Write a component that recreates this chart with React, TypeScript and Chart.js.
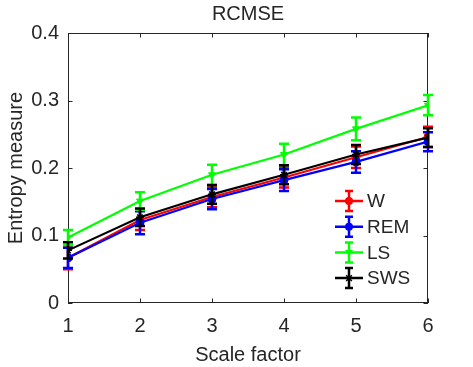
import React, { useEffect, useRef } from 'react';
import { Chart, registerables } from 'chart.js';

Chart.register(...registerables);

const scaleFactors = [1, 2, 3, 4, 5, 6];
const yTickValues = [0, 0.1, 0.2, 0.3, 0.4];
const seriesNames = ['W', 'REM', 'LS', 'SWS'];
const seriesColors = ['#ff0000', '#0000ff', '#00ff00', '#000000'];
const seriesMarkers = ['circle', 'circle', 'triangle', 'star'];

const wValues = [0.067, 0.123, 0.157, 0.186, 0.216, 0.246];
const wErrors = [0.017, 0.015, 0.015, 0.015, 0.016, 0.015];
const remValues = [0.067, 0.119, 0.154, 0.182, 0.209, 0.239];
const remErrors = [0.015, 0.017, 0.015, 0.016, 0.016, 0.014];
const lsValues = [0.097, 0.151, 0.19, 0.22, 0.258, 0.293];
const lsErrors = [0.011, 0.013, 0.015, 0.016, 0.017, 0.015];
const swsValues = [0.078, 0.127, 0.161, 0.19, 0.22, 0.245];
const swsErrors = [0.012, 0.013, 0.014, 0.014, 0.014, 0.014];

const allValues = [wValues, remValues, lsValues, swsValues];
const allErrors = [wErrors, remErrors, lsErrors, swsErrors];

const FONT = '"Liberation Sans", Arial, Helvetica, sans-serif';
const TEXT = '#262626';

function drawMarker(ctx: CanvasRenderingContext2D, style: string, x: number, y: number, r: number, color: string) {
  ctx.save();
  ctx.fillStyle = color;
  ctx.strokeStyle = color;
  ctx.lineWidth = 1.5;
  ctx.beginPath();
  if (style === 'circle') {
    ctx.arc(x, y, r, 0, Math.PI * 2);
    ctx.fill();
  } else if (style === 'triangle') {
    ctx.moveTo(x - r, y - r * 0.6);
    ctx.lineTo(x + r, y - r * 0.6);
    ctx.lineTo(x, y + r);
    ctx.closePath();
    ctx.fill();
  } else {
    for (let k = 0; k < 4; k++) {
      const a = (k * Math.PI) / 4;
      ctx.moveTo(x - Math.cos(a) * r, y - Math.sin(a) * r);
      ctx.lineTo(x + Math.cos(a) * r, y + Math.sin(a) * r);
    }
    ctx.stroke();
  }
  ctx.restore();
}

const errorBarPlugin = {
  id: 'errorBars',
  afterDatasetDraw(chart: any, args: any) {
    const ds = chart.data.datasets[args.index];
    const errs: number[] = ds.errorValues;
    if (!errs) return;
    const ctx = chart.ctx;
    const ys = chart.scales.y;
    const xs = chart.scales.x;
    ctx.save();
    ctx.strokeStyle = ds.borderColor;
    ctx.lineWidth = 2.5;
    ds.data.forEach((p: any, i: number) => {
      const x = xs.getPixelForValue(p.x);
      const yTop = ys.getPixelForValue(p.y + errs[i]);
      const yBot = ys.getPixelForValue(p.y - errs[i]);
      ctx.beginPath();
      ctx.moveTo(x, yTop);
      ctx.lineTo(x, yBot);
      ctx.moveTo(x - 5, yTop);
      ctx.lineTo(x + 5, yTop);
      ctx.moveTo(x - 5, yBot);
      ctx.lineTo(x + 5, yBot);
      ctx.stroke();
    });
    ctx.restore();
  },
};

const boxPlugin = {
  id: 'boxAxes',
  beforeDatasetsDraw(chart: any) {
    const { ctx, chartArea } = chart;
    const { left, right, top, bottom } = chartArea;
    ctx.save();
    ctx.strokeStyle = TEXT;
    ctx.lineWidth = 1;
    ctx.strokeRect(left + 0.5, top + 0.5, right - left - 1, bottom - top - 1);
    const tl = 4.5;
    ctx.beginPath();
    chart.scales.x.ticks.forEach((t: any) => {
      const x = Math.round(chart.scales.x.getPixelForValue(t.value)) + 0.5;
      ctx.moveTo(x, bottom);
      ctx.lineTo(x, bottom - tl);
      ctx.moveTo(x, top);
      ctx.lineTo(x, top + tl);
    });
    chart.scales.y.ticks.forEach((t: any) => {
      const y = Math.round(chart.scales.y.getPixelForValue(t.value)) + 0.5;
      ctx.moveTo(left, y);
      ctx.lineTo(left + tl, y);
      ctx.moveTo(right, y);
      ctx.lineTo(right - tl, y);
    });
    ctx.stroke();
    ctx.restore();
  },
};

const legendPlugin = {
  id: 'customLegend',
  afterDraw(chart: any) {
    const { ctx, chartArea } = chart;
    const x0 = chartArea.right - 93;
    const x1 = chartArea.right - 65;
    const xm = (x0 + x1) / 2;
    const xt = chartArea.right - 61;
    ctx.save();
    seriesNames.forEach((name, i) => {
      const y = chartArea.top + 168 + i * 25.7;
      const c = seriesColors[i];
      ctx.strokeStyle = c;
      ctx.lineWidth = 2.5;
      ctx.beginPath();
      ctx.moveTo(x0, y);
      ctx.lineTo(x1, y);
      ctx.moveTo(xm, y - 10);
      ctx.lineTo(xm, y + 10);
      ctx.moveTo(xm - 4, y - 10);
      ctx.lineTo(xm + 4, y - 10);
      ctx.moveTo(xm - 4, y + 10);
      ctx.lineTo(xm + 4, y + 10);
      ctx.stroke();
      drawMarker(ctx, seriesMarkers[i], xm, y, 4, c);
      ctx.fillStyle = TEXT;
      ctx.font = `19px ${FONT}`;
      ctx.textAlign = 'left';
      ctx.textBaseline = 'middle';
      ctx.fillText(name, xt, y + 1);
    });
    ctx.restore();
  },
};

export default function App() {
  const ref = useRef<HTMLCanvasElement | null>(null);

  useEffect(() => {
    document.body.style.margin = '0';
    if (!ref.current) return;
    const order = [3, 2, 1, 0];
    const datasets = seriesNames.map((name, i) => ({
      label: name,
      data: scaleFactors.map((x, j) => ({ x, y: allValues[i][j] })),
      errorValues: allErrors[i],
      borderColor: seriesColors[i],
      backgroundColor: seriesColors[i],
      borderWidth: 2.2,
      pointStyle: seriesMarkers[i],
      pointRotation: seriesMarkers[i] === 'triangle' ? 180 : 0,
      pointRadius: 4,
      pointBorderWidth: seriesMarkers[i] === 'star' ? 1.5 : 1,
      tension: 0,
      order: order[i],
    }));

    const chart = new Chart(ref.current, {
      type: 'line',
      data: { datasets } as any,
      options: {
        animation: false,
        responsive: false,
        events: [],
        layout: { padding: { left: 0, right: 45, top: 0, bottom: 0 } },
        plugins: {
          legend: { display: false },
          tooltip: { enabled: false },
          title: {
            display: true,
            text: 'RCMSE',
            color: TEXT,
            fullSize: false,
            font: { family: FONT, size: 20, weight: 'normal', lineHeight: 1.2 },
            padding: { top: 2, bottom: 7 },
          },
        },
        scales: {
          x: {
            type: 'linear',
            min: 1,
            max: 6,
            afterBuildTicks: (s: any) => {
              s.ticks = scaleFactors.map((v) => ({ value: v }));
            },
            afterFit: (s: any) => {
              s.height = 64;
            },
            grid: { display: false, drawTicks: false },
            border: { display: false },
            ticks: {
              color: TEXT,
              padding: 11,
              font: { family: FONT, size: 20 },
              callback: (v: any) => String(v),
            },
            title: {
              display: true,
              text: 'Scale factor',
              color: TEXT,
              font: { family: FONT, size: 20, lineHeight: 1.2 },
              padding: { top: 0, bottom: 0 },
            },
          },
          y: {
            type: 'linear',
            min: 0,
            max: 0.4,
            afterBuildTicks: (s: any) => {
              s.ticks = yTickValues.map((v) => ({ value: v }));
            },
            afterFit: (s: any) => {
              s.width = 68;
            },
            grid: { display: false, drawTicks: false },
            border: { display: false },
            ticks: {
              color: TEXT,
              padding: 9,
              font: { family: FONT, size: 20 },
              callback: (v: any) => String(Math.round(v * 10) / 10),
            },
            title: {
              display: true,
              text: 'Entropy measure',
              color: TEXT,
              font: { family: FONT, size: 20, lineHeight: 1.2 },
              padding: { top: 4, bottom: 0 },
            },
          },
        },
      } as any,
      plugins: [boxPlugin, errorBarPlugin, legendPlugin],
    });
    return () => chart.destroy();
  }, []);

  return (
    <div style={{ width: 473, height: 367, background: '#ffffff' }}>
      <canvas ref={ref} width={473} height={367} style={{ display: 'block' }} />
    </div>
  );
}
